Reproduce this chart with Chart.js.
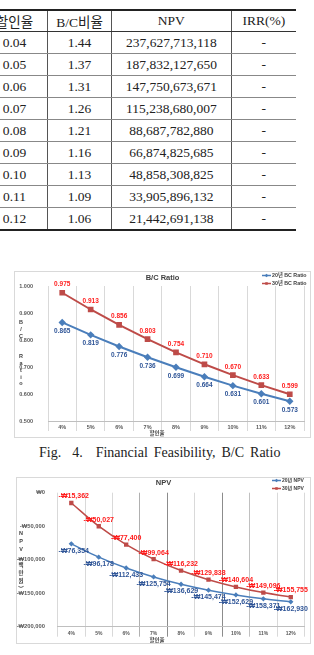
<!DOCTYPE html>
<html>
<head>
<meta charset="utf-8">
<script src="https://cdn.jsdelivr.net/npm/chart.js@4.4.1/dist/chart.umd.min.js"></script>
<style>
  html, body { margin: 0; padding: 0; background: #fff; }
  body { width: 314px; height: 655px; position: relative; overflow: hidden; }
  #tbl {
    position: absolute; top: 9px; left: -18px;
    border-collapse: collapse; table-layout: fixed;
    font-family: "Liberation Serif", "Noto Sans CJK KR", serif;
    font-size: 13.5px; color: #222;
  }
  #tbl th, #tbl td { padding: 0; text-align: center; white-space: nowrap; }
  #tbl th { font-weight: normal; height: 17px; border-top: 2px solid #222; border-bottom: 1.5px solid #333; }
  #tbl td { height: 21px; border-bottom: 1px solid #888; }
  #tbl tr:last-child td { border-bottom: 2px solid #222; }
  #tbl th + th, #tbl td + td { border-left: 1.5px solid #555; }
  .box { position: absolute; border: 1px solid #d9d9d9; }
  .box canvas { display: block; }
  #caption {
    position: absolute; left: 39px; top: 445px; white-space: nowrap;
    font-family: "Liberation Serif", serif; font-size: 14px; line-height: 16px; color: #222;
  }
</style>
</head>
<body>

<table id="tbl">
  <colgroup><col style="width:67px"><col style="width:65px"><col style="width:121px"><col style="width:66px"></colgroup>
  <tbody id="tblBody"></tbody>
</table>

<div class="box" style="left:14px; top:271px;"><canvas id="bcChart" width="295" height="165"></canvas></div>

<div id="caption">Fig.<span style="margin-left:11px">4.</span><span style="margin-left:13px; word-spacing:2.5px">Financial Feasibility, B/C Ratio</span></div>

<div class="box" style="left:16px; top:477px;"><canvas id="npvChart" width="293" height="165"></canvas></div>

<script>
// ===== TABLE DATA =====
const tableHead = ['할인율', 'B/C비율', 'NPV', 'IRR(%)'];
const tableRates = ['0.04', '0.05', '0.06', '0.07', '0.08', '0.09', '0.10', '0.11', '0.12'];
const tableBC = ['1.44', '1.37', '1.31', '1.26', '1.21', '1.16', '1.13', '1.09', '1.06'];
const tableNPV = ['237,627,713,118', '187,832,127,650', '147,750,673,671', '115,238,680,007',
  '88,687,782,880', '66,874,825,685', '48,858,308,825', '33,905,896,132', '21,442,691,138'];
const tableIRR = ['-', '-', '-', '-', '-', '-', '-', '-', '-'];

// ===== CHART DATA =====
const rates = ['4%', '5%', '6%', '7%', '8%', '9%', '10%', '11%', '12%'];
const bc20 = [0.865, 0.819, 0.776, 0.736, 0.699, 0.664, 0.631, 0.601, 0.573];
const bc30 = [0.975, 0.913, 0.856, 0.803, 0.754, 0.710, 0.670, 0.633, 0.599];
const npv20 = [-76354, -96178, -112433, -125754, -136629, -145474, -152629, -158371, -162930];
const npv30 = [-15362, -50027, -77400, -99064, -116232, -129838, -140604, -149096, -155755];
const bcYTitle = ['B', '/', 'C', '', '', 'R', 'a', 't', 'i', 'o'];
const npvYTitle = ['N', 'P', 'V', '︵', '백', '만', '원', '︶'];

// ===== TABLE =====
let rows = '<tr>' + tableHead.map(h => `<th>${h}</th>`).join('') + '</tr>';
tableRates.forEach((r, i) => {
  rows += `<tr><td>${r}</td><td>${tableBC[i]}</td><td>${tableNPV[i]}</td><td>${tableIRR[i]}</td></tr>`;
});
document.getElementById('tblBody').innerHTML = rows;

// ===== CHARTS =====
const FAMILY = '"Liberation Sans", "DejaVu Sans", "Noto Sans CJK KR", sans-serif';
Chart.defaults.font.family = FAMILY;
Chart.defaults.color = '#595959';

const won = v => v === 0 ? '₩0' : '-₩' + Math.abs(v).toLocaleString('en-US');

// value labels, stacked legend, upright y title and x title
const decor = {
  id: 'decor',
  afterDraw(chart, args, o) {
    const ctx = chart.ctx;
    ctx.save();
    ctx.textBaseline = 'middle';

    ctx.textAlign = 'center';
    ctx.font = `bold ${o.labelSize}px ${FAMILY}`;
    chart.data.datasets.forEach((ds, di) => {
      ctx.fillStyle = ds.labelColor;
      chart.getDatasetMeta(di).data.forEach((pt, i) => {
        const txt = o.format(ds.data[i]);
        const w = ctx.measureText(txt).width;
        const x = Math.max(pt.x, chart.chartArea.left + w / 2 + 1);
        ctx.fillText(txt, x, pt.y + ds.labelDy);
      });
    });

    ctx.textAlign = 'left';
    ctx.font = `bold ${o.legendSize}px ${FAMILY}`;
    chart.data.datasets.forEach((ds, di) => {
      const y = o.legendY + di * o.legendGap;
      ctx.strokeStyle = ds.borderColor;
      ctx.lineWidth = 1.5;
      ctx.beginPath();
      ctx.moveTo(o.legendX, y);
      ctx.lineTo(o.legendX + 9, y);
      ctx.stroke();
      ctx.fillStyle = ds.borderColor;
      Chart.helpers.drawPoint(ctx, { pointStyle: ds.pointStyle, radius: 1.8, rotation: 0, borderWidth: 0 }, o.legendX + 4.5, y);
      ctx.fillStyle = '#404040';
      ctx.fillText(ds.label, o.legendX + 10, y);
    });

    ctx.textAlign = 'center';
    ctx.fillStyle = '#404040';
    ctx.font = `bold ${o.axisSize}px ${FAMILY}`;
    o.yTitle.forEach((ch, i) => ctx.fillText(ch, o.yTitleX, o.yTitleY + i * o.yTitleStep));
    ctx.fillText(o.xTitle, o.xTitleX, o.xTitleY);
    ctx.restore();
  }
};

new Chart(document.getElementById('bcChart'), {
  type: 'line',
  data: {
    labels: rates,
    datasets: [
      { label: '20년 BC Ratio', data: bc20, borderColor: '#4A7EBB', backgroundColor: '#4A7EBB', borderWidth: 2,
        pointStyle: 'rectRot', pointRadius: 2.3, tension: 0, labelColor: '#2F5597', labelDy: 8.5 },
      { label: '30년 BC Ratio', data: bc30, borderColor: '#BE4B48', backgroundColor: '#BE4B48', borderWidth: 2,
        pointStyle: 'rect', pointRadius: 2.6, tension: 0, labelColor: '#FF2020', labelDy: -8.3 },
    ]
  },
  options: {
    responsive: false, animation: false,
    layout: { padding: 0 },
    plugins: {
      legend: { display: false },
      tooltip: { enabled: false },
      title: { display: true, text: 'B/C Ratio', color: '#404040', font: { size: 7.5, weight: 'bold' }, padding: { top: 1, bottom: 4 } },
      decor: { labelSize: 6.5, format: v => v.toFixed(3), legendSize: 5.3, legendX: 247, legendY: 3.5, legendGap: 8,
        axisSize: 5.5, yTitle: bcYTitle, yTitleX: 6, yTitleY: 50.7, yTitleStep: 6.8,
        xTitle: '할인율', xTitleX: 142, xTitleY: 161.5 }
    },
    scales: {
      x: {
        offset: true,
        grid: { offset: true, color: '#d9d9d9', tickColor: '#d9d9d9', tickLength: 10 },
        border: { color: '#bfbfbf' },
        ticks: { padding: -6.6, maxRotation: 0, autoSkip: false, font: { size: 5.5, weight: 'bold' } },
        afterFit: s => { s.height = 16; }
      },
      y: {
        min: 0.5, max: 1.0,
        grid: { display: false }, border: { display: false },
        ticks: { stepSize: 0.1, padding: 7, font: { size: 5.5, weight: 'bold' }, callback: v => v.toFixed(3) },
        afterFit: s => { s.width = 33; }
      }
    }
  },
  plugins: [decor]
});

new Chart(document.getElementById('npvChart'), {
  type: 'line',
  data: {
    labels: rates,
    datasets: [
      { label: '20년 NPV', data: npv20, borderColor: '#4A7EBB', backgroundColor: '#4A7EBB', borderWidth: 1.5,
        pointStyle: 'rectRot', pointRadius: 1.6, tension: 0.4, labelColor: '#2F5597', labelDy: 7 },
      { label: '30년 NPV', data: npv30, borderColor: '#BE4B48', backgroundColor: '#BE4B48', borderWidth: 1.5,
        pointStyle: 'rect', pointRadius: 2, tension: 0.4, labelColor: '#FF1A1A', labelDy: -6.5 },
    ]
  },
  options: {
    responsive: false, animation: false,
    layout: { padding: 0 },
    plugins: {
      legend: { display: false },
      tooltip: { enabled: false },
      title: { display: true, text: 'NPV', color: '#404040', font: { size: 7.5, weight: 'bold' }, padding: { top: 0.5, bottom: 5.2 } },
      decor: { labelSize: 7, format: won, legendSize: 5, legendX: 255, legendY: 2.5, legendGap: 8,
        axisSize: 5.5, yTitle: npvYTitle, yTitleX: 4, yTitleY: 55, yTitleStep: 8,
        xTitle: '할인율', xTitleX: 140, xTitleY: 162.5 }
    },
    scales: {
      x: {
        offset: true,
        grid: {
          offset: true, tickLength: 10,
          color: c => ({ 3: '#b0b0b0', 4: '#8c8c8c', 6: '#8c8c8c', 7: '#c0c0c0' })[c.index] || '#d9d9d9',
          tickColor: c => ({ 3: '#b0b0b0', 4: '#8c8c8c', 6: '#8c8c8c', 7: '#c0c0c0' })[c.index] || '#d9d9d9'
        },
        border: { color: '#bfbfbf' },
        ticks: { padding: -5.7, maxRotation: 0, autoSkip: false, font: { size: 5, weight: 'bold' } },
        afterFit: s => { s.height = 16.3; }
      },
      y: {
        min: -200000, max: 0,
        grid: { display: false }, border: { display: false },
        ticks: { stepSize: 50000, padding: 4.6, font: { size: 5.8, weight: 'bold' }, callback: won },
        afterFit: s => { s.width = 40.6; }
      }
    }
  },
  plugins: [decor]
});
</script>
</body>
</html>
